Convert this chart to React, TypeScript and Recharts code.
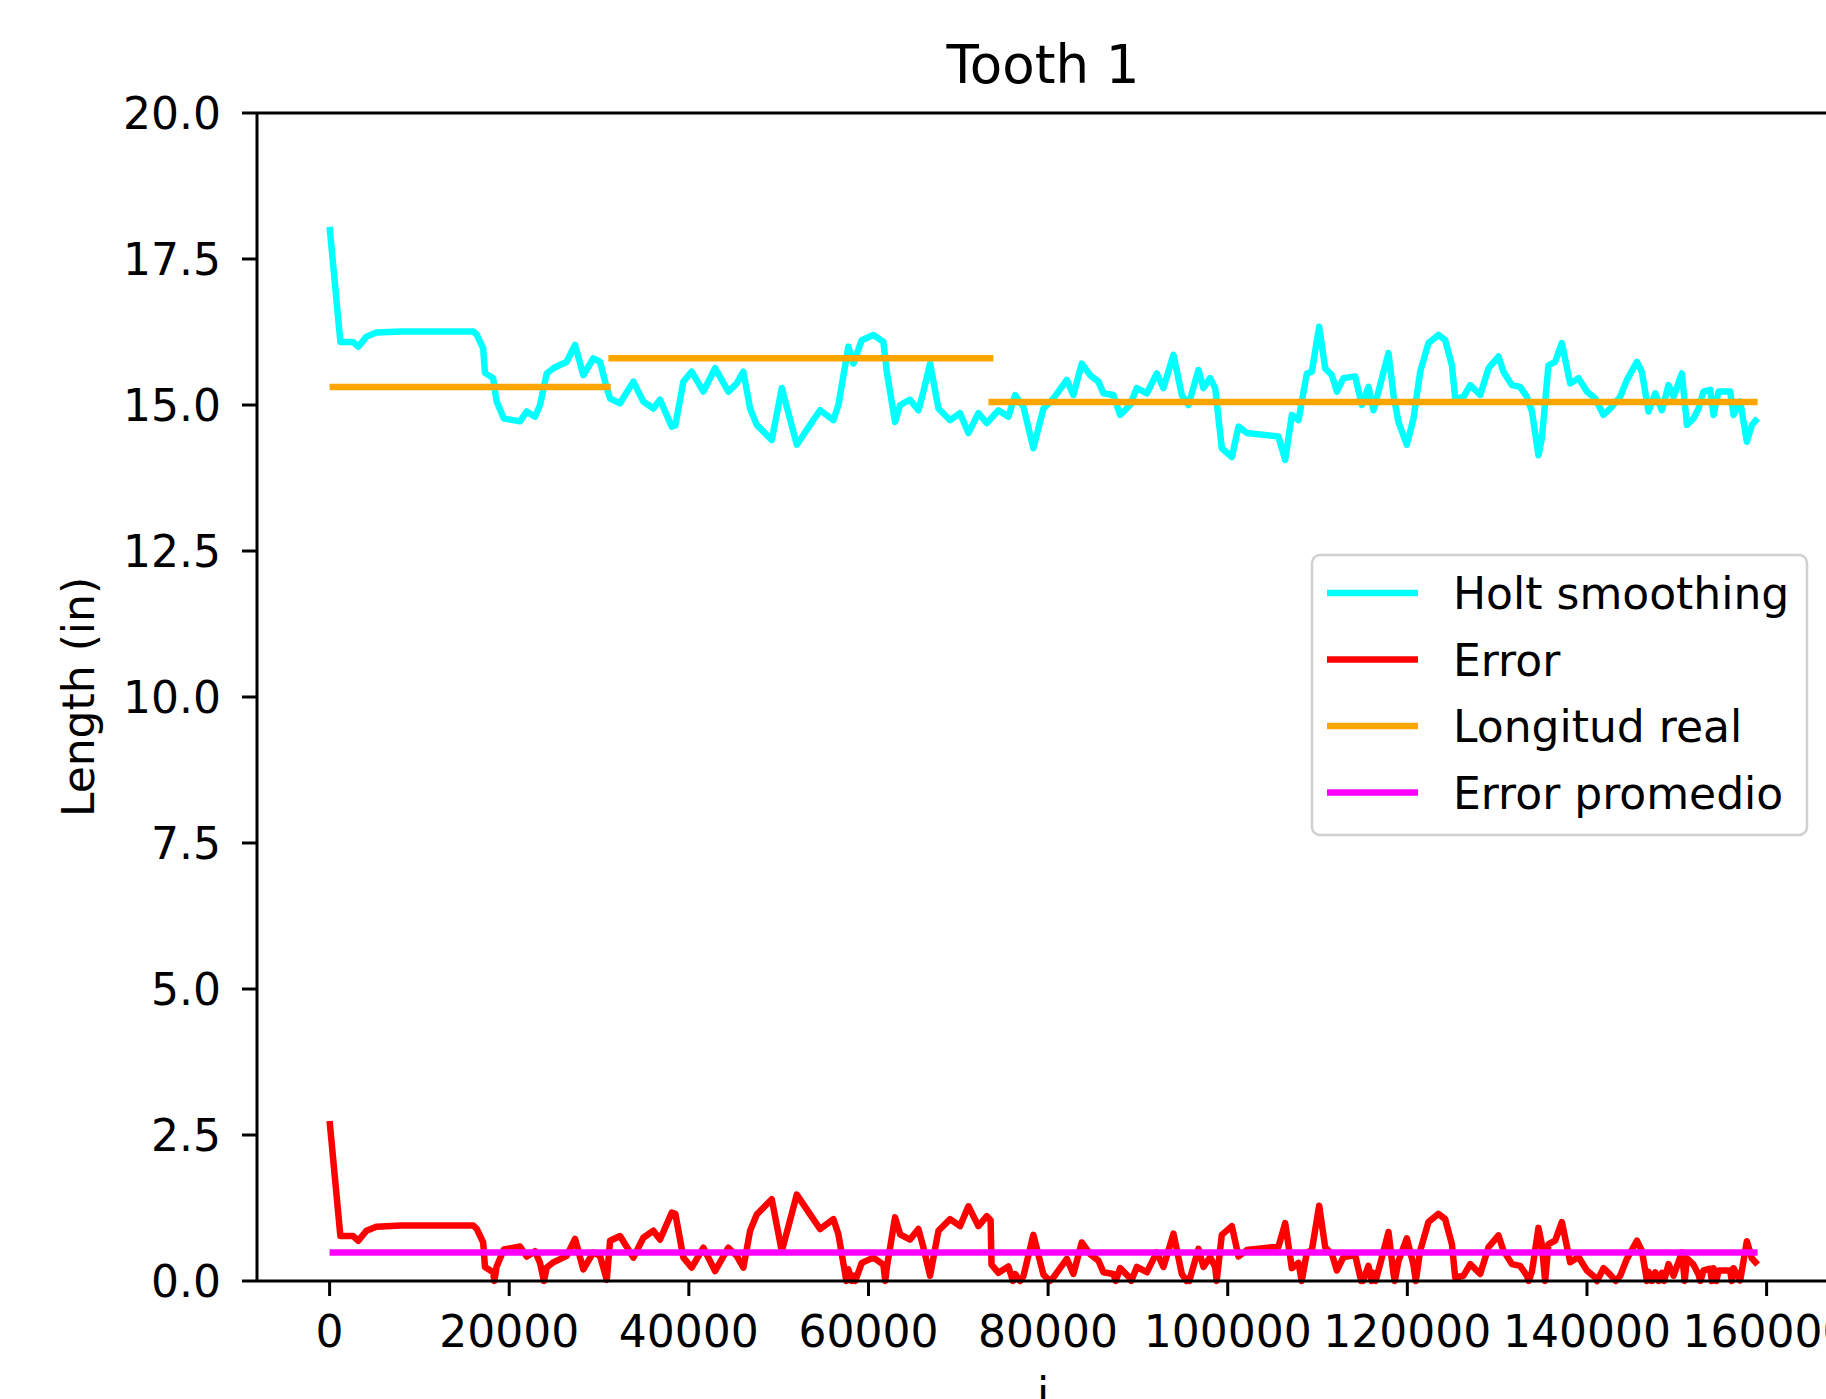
import { LineChart, Line, XAxis, YAxis, ReferenceLine } from 'recharts';

const FONT = '"DejaVu Sans", sans-serif';

// [i, length]
const holtSmoothing: [number, number][] = [
  [0, 18.05], [1200, 16.08], [2600, 16.08], [3200, 16.0], [4100, 16.17], [5200, 16.24],
  [8000, 16.26], [16000, 16.26], [16400, 16.2], [17100, 15.97], [17300, 15.55], [18200, 15.46],
  [18600, 15.06], [19400, 14.77], [21200, 14.72], [21950, 14.89], [22870, 14.8], [23430, 15.0],
  [24180, 15.54], [24910, 15.63], [26400, 15.74], [27330, 16.03], [28250, 15.51], [29370, 15.8],
  [30110, 15.74], [30860, 15.29], [31230, 15.11], [32340, 15.03], [33820, 15.4], [34930, 15.06],
  [36050, 14.94], [36790, 15.09], [38100, 14.63], [38500, 14.65], [39390, 15.4], [40320, 15.57],
  [41620, 15.23], [42920, 15.63], [44400, 15.23], [45330, 15.37], [46070, 15.57], [46820, 14.94],
  [47560, 14.66], [49230, 14.4], [50350, 15.29], [52020, 14.32], [53500, 14.66], [54610, 14.91],
  [56090, 14.74], [56650, 15.0], [57760, 16.0], [58320, 15.71], [59250, 16.11], [60550, 16.2],
  [61660, 16.08], [62040, 15.57], [62960, 14.71], [63520, 15.0], [64630, 15.09], [65560, 14.91],
  [66120, 15.23], [66860, 15.71], [67790, 14.94], [69090, 14.74], [70200, 14.86], [71130, 14.52],
  [72240, 14.86], [73180, 14.69], [74470, 14.91], [75580, 14.8], [76330, 15.17], [77250, 14.97],
  [78360, 14.26], [79480, 14.94], [80590, 15.11], [82080, 15.43], [82820, 15.17], [83750, 15.71],
  [84680, 15.51], [85600, 15.4], [86160, 15.2], [87270, 15.17], [88020, 14.83], [89130, 15.0],
  [89880, 15.29], [91000, 15.2], [92100, 15.54], [92840, 15.29], [93960, 15.86], [94890, 15.17],
  [95630, 15.0], [96740, 15.6], [97300, 15.29], [98040, 15.46], [98600, 15.29], [99340, 14.26],
  [100460, 14.11], [101200, 14.63], [102130, 14.52], [105650, 14.46], [106400, 14.06], [107140, 14.83],
  [107880, 14.74], [108810, 15.54], [109360, 15.57], [110180, 16.34], [110850, 15.63], [111600, 15.51],
  [112150, 15.23], [112890, 15.46], [114190, 15.49], [114940, 15.0], [115670, 15.31], [116230, 14.91],
  [116970, 15.34], [117900, 15.89], [118460, 15.17], [119010, 14.71], [119940, 14.32], [120680, 14.77],
  [121430, 15.57], [122350, 16.06], [123460, 16.2], [124210, 16.11], [124960, 15.68], [125330, 15.11],
  [126250, 15.14], [127000, 15.34], [128110, 15.17], [129040, 15.63], [130150, 15.83], [130700, 15.57],
  [131640, 15.34], [132560, 15.31], [133310, 15.14], [133870, 14.89], [134600, 14.14], [134970, 14.42],
  [135710, 15.68], [136460, 15.74], [137200, 16.06], [138130, 15.37], [139060, 15.46], [139990, 15.23],
  [140920, 15.11], [141840, 14.83], [142590, 14.94], [143700, 15.14], [144450, 15.43], [145560, 15.74],
  [146110, 15.57], [146850, 14.89], [147600, 15.2], [148340, 14.91], [149080, 15.34], [149640, 15.14],
  [150570, 15.54], [151130, 14.66], [151860, 14.77], [152420, 14.94], [152970, 15.23], [153720, 15.26],
  [154090, 14.83], [154650, 15.23], [155950, 15.23], [156320, 14.83], [157060, 15.06], [157800, 14.37],
  [158360, 14.66], [159000, 14.77],
];

// [i, error]
const errorSeries: [number, number][] = [
  [0, 2.74], [1200, 0.77], [2600, 0.77], [3200, 0.69], [4100, 0.86], [5200, 0.93], [8000, 0.95],
  [16000, 0.95], [16400, 0.89], [17100, 0.66], [17300, 0.24], [18200, 0.15], [18350, 0], [18600, 0.25],
  [19400, 0.54], [21200, 0.59], [21950, 0.42], [22870, 0.51], [23430, 0.31], [23860, 0], [24180, 0.23],
  [24910, 0.32], [26400, 0.43], [27330, 0.72], [28250, 0.2], [29370, 0.49], [30110, 0.43], [30860, 0.02],
  [31230, 0.69], [32340, 0.77], [33820, 0.4], [34930, 0.74], [36050, 0.86], [36790, 0.71], [38100, 1.17],
  [38500, 1.15], [39390, 0.4], [40320, 0.23], [41620, 0.57], [42920, 0.17], [44400, 0.57], [45330, 0.43],
  [46070, 0.23], [46820, 0.86], [47560, 1.14], [49230, 1.4], [50350, 0.51], [52020, 1.48], [53500, 1.14],
  [54610, 0.89], [56090, 1.06], [56650, 0.8], [57540, 0], [57760, 0.2], [58150, 0], [58320, 0.09],
  [58530, 0], [59250, 0.31], [60550, 0.4], [61660, 0.28], [61870, 0], [62040, 0.23], [62960, 1.09],
  [63520, 0.8], [64630, 0.71], [65560, 0.89], [66120, 0.57], [66860, 0.09], [67790, 0.86], [69090, 1.06],
  [70200, 0.94], [71130, 1.28], [72240, 0.94], [73180, 1.11], [73600, 1.04], [73700, 0.28], [74470, 0.14],
  [75580, 0.25], [76090, 0], [76330, 0.12], [76880, 0], [77250, 0.08], [78360, 0.79], [79480, 0.11],
  [80200, 0], [80590, 0.06], [82080, 0.38], [82820, 0.12], [83750, 0.66], [84680, 0.46], [85600, 0.35],
  [86160, 0.15], [87270, 0.12], [87530, 0], [88020, 0.22], [89130, 0.05], [89260, 0], [89880, 0.24],
  [91000, 0.15], [92100, 0.49], [92840, 0.24], [93960, 0.81], [94890, 0.12], [95410, 0], [95630, 0.05],
  [95720, 0], [96740, 0.55], [97300, 0.24], [98040, 0.41], [98600, 0.24], [98770, 0], [99340, 0.79],
  [100460, 0.94], [101200, 0.42], [102130, 0.53], [105650, 0.59], [106400, 0.99], [107140, 0.22],
  [107880, 0.31], [108240, 0], [108810, 0.49], [109360, 0.52], [110180, 1.29], [110850, 0.58],
  [111600, 0.46], [112150, 0.18], [112890, 0.41], [114190, 0.44], [114860, 0], [114940, 0.05],
  [115060, 0], [115670, 0.26], [116030, 0], [116230, 0.14], [116470, 0], [116970, 0.29], [117900, 0.84],
  [118460, 0.12], [118600, 0], [119010, 0.34], [119940, 0.73], [120680, 0.28], [120940, 0], [121430, 0.52],
  [122350, 1.01], [123460, 1.15], [124210, 1.06], [124960, 0.63], [125330, 0.06], [126250, 0.09],
  [127000, 0.29], [128110, 0.12], [129040, 0.58], [130150, 0.78], [130700, 0.52], [131640, 0.29],
  [132560, 0.26], [133310, 0.09], [133510, 0], [133870, 0.16], [134600, 0.91], [134970, 0.63],
  [135340, 0], [135710, 0.63], [136460, 0.69], [137200, 1.01], [138130, 0.32], [139060, 0.41],
  [139990, 0.18], [140920, 0.06], [141120, 0], [141840, 0.22], [142590, 0.11], [143200, 0],
  [143700, 0.09], [144450, 0.38], [145560, 0.69], [146110, 0.52], [146680, 0], [146850, 0.16],
  [147240, 0], [147600, 0.15], [147980, 0], [148340, 0.14], [148580, 0], [149080, 0.29], [149640, 0.09],
  [150570, 0.49], [150880, 0], [151130, 0.39], [151860, 0.28], [152420, 0.11], [152630, 0],
  [152970, 0.18], [153720, 0.21], [153900, 0], [154090, 0.22], [154400, 0], [154650, 0.18],
  [155950, 0.18], [156120, 0], [156320, 0.22], [157060, 0.01], [157800, 0.68], [158360, 0.39],
  [159000, 0.28],
];

// real length, one constant per tooth segment
const realStart = [0, 31040, 73350];
const realEnd = [31300, 73900, 159000];
const realLength = [15.31, 15.8, 15.05];

const meanErrorRange = [0, 159000];
const meanError = 0.49;

const xTicks = [0, 20000, 40000, 60000, 80000, 100000, 120000, 140000, 160000];
const yTicks = [0, 2.5, 5, 7.5, 10, 12.5, 15, 17.5, 20];

const seriesNames = ['Holt smoothing', 'Error', 'Longitud real', 'Error promedio'];
const seriesColors = ['#00ffff', '#ff0000', '#ffa500', '#ff00ff'];

const toPoints = (pairs: [number, number][]) => pairs.map(([x, y]) => ({ x, y }));

const lineProps = {
  dataKey: 'y',
  dot: false,
  activeDot: false,
  strokeWidth: 6.5,
  strokeLinejoin: 'round' as const,
  isAnimationActive: false,
};

export default function App() {
  const holtData = toPoints(holtSmoothing);
  const errorData = toPoints(errorSeries);
  const realData = realStart.map((s, i) => [
    { x: s, y: realLength[i] },
    { x: realEnd[i], y: realLength[i] },
  ]);
  const meanData = meanErrorRange.map((x) => ({ x, y: meanError }));

  const legendTop = 555;
  const legendRow = 66.5;

  return (
    <div
      style={{
        position: 'fixed',
        left: 0,
        top: 0,
        width: 1826,
        height: 1399,
        overflow: 'hidden',
        background: '#fff',
      }}
    >
      <LineChart
        width={1840}
        height={1399}
        margin={{ top: 113, right: 11, bottom: 0, left: 0 }}
        style={{ fontFamily: FONT }}
      >
        <XAxis
          dataKey="x"
          type="number"
          domain={[-8083, 166947]}
          ticks={xTicks}
          interval={0}
          height={118}
          tickSize={15}
          tickMargin={20}
          tick={{ fill: '#000', fontSize: 44, fontFamily: FONT }}
          axisLine={{ stroke: '#000', strokeWidth: 3 }}
          tickLine={{ stroke: '#000', strokeWidth: 3 }}
        />
        <YAxis
          type="number"
          domain={[0, 20]}
          ticks={yTicks}
          interval={0}
          width={257}
          tickSize={15}
          tickMargin={21}
          tickFormatter={(v: number) => v.toFixed(1)}
          tick={{ fill: '#000', fontSize: 44, fontFamily: FONT }}
          axisLine={{ stroke: '#000', strokeWidth: 3 }}
          tickLine={{ stroke: '#000', strokeWidth: 3 }}
        />
        <ReferenceLine y={20} stroke="#000" strokeWidth={3} />
        <Line {...lineProps} data={holtData} stroke={seriesColors[0]} />
        <Line {...lineProps} data={errorData} stroke={seriesColors[1]} />
        {realData.map((seg, i) => (
          <Line key={`real-${i}`} {...lineProps} data={seg} stroke={seriesColors[2]} />
        ))}
        <Line {...lineProps} data={meanData} stroke={seriesColors[3]} />
      </LineChart>

      <svg
        width={1826}
        height={1399}
        style={{ position: 'absolute', left: 0, top: 0, pointerEvents: 'none' }}
        fontFamily={FONT}
      >
        <text x={1043} y={83} textAnchor="middle" fontSize={53} fill="#000">
          Tooth 1
        </text>
        <text x={1043} y={1409} textAnchor="middle" fontSize={44} fill="#000">
          i
        </text>
        <text
          transform="translate(94,697) rotate(-90)"
          textAnchor="middle"
          fontSize={44}
          fill="#000"
        >
          Length (in)
        </text>

        <rect
          x={1312}
          y={legendTop}
          width={495}
          height={280}
          rx={8}
          fill="#fff"
          fillOpacity={0.8}
          stroke="#d0d0d0"
          strokeWidth={2.5}
        />
        {seriesNames.map((name, i) => {
          const cy = legendTop + 38 + i * legendRow;
          return (
            <g key={name}>
              <line x1={1327} x2={1418} y1={cy} y2={cy} stroke={seriesColors[i]} strokeWidth={6.5} />
              <text x={1453} y={cy + 16} fontSize={44} fill="#000">
                {name}
              </text>
            </g>
          );
        })}
      </svg>
    </div>
  );
}
